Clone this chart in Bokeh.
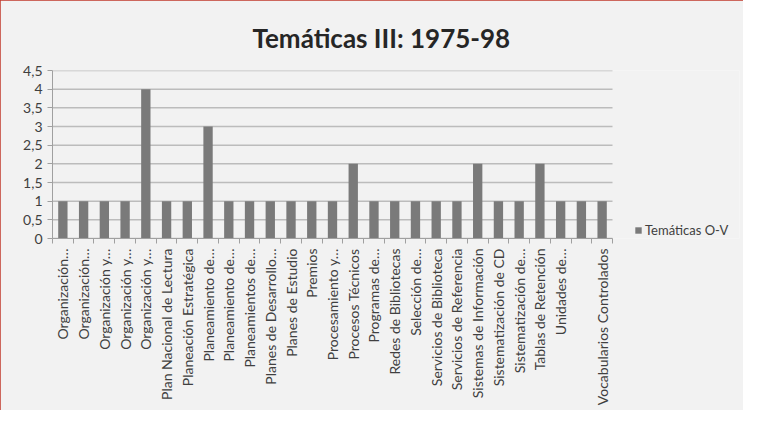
from bokeh.plotting import figure
from bokeh.models import (ColumnDataSource, FixedTicker, CustomJSTickFormatter,
                          Legend, LegendItem, Range1d)
from bokeh.embed import file_html
from bokeh.resources import INLINE
import math

categories = [
    "Organización…", "Organización…", "Organización y…", "Organización y…",
    "Organización y…", "Plan Nacional de Lectura", "Planeación Estratégica",
    "Planeamiento de…", "Planeamiento de…", "Planeamientos de…",
    "Planes de Desarrollo…", "Planes de Estudio", "Premios",
    "Procesamiento y…", "Procesos Técnicos", "Programas de…",
    "Redes de Bibliotecas", "Selección de…", "Servicios de Biblioteca",
    "Servicios de Referencia", "Sistemas de Información",
    "Sistematización de CD", "Sistematización de…", "Tablas de Retención",
    "Unidades de…", "", "Vocabularios Controlados",
]
values = [1, 1, 1, 1, 4, 1, 1, 3, 1, 1, 1, 1, 1, 1, 2, 1, 1, 1, 1, 1, 2, 1, 1, 2, 1, 1, 1]
y_ticks = [0, 0.5, 1, 1.5, 2, 2.5, 3, 3.5, 4, 4.5]
series_name = "Temáticas O-V"
title_text = "Temáticas III: 1975-98"

n = len(categories)
positions = list(range(1, n + 1))
src = ColumnDataSource(dict(x=positions, top=values))

FONT = "Lato"
BG = "#f2f2f2"
W, H = 743, 410
LEFT, RIGHT, TOP, BOTTOM = 52, 4, 70, 172
plot_px = 560  # width of the category area
frame_px = W - LEFT - RIGHT
x_end = 0.5 + frame_px * n / plot_px

p = figure(width=W, height=H, output_backend="svg", toolbar_location=None,
           x_range=Range1d(0.5, x_end), y_range=Range1d(0, 4.5),
           min_border_left=LEFT, min_border_right=RIGHT, min_border_top=TOP,
           min_border_bottom=BOTTOM)
p.background_fill_color = BG
p.border_fill_color = BG
p.outline_line_color = None
p.styles = {"outline": "2px solid #c0392b", "outline-offset": "-2px",
            "width": f"{W}px", "height": f"{H}px",
            "max-width": f"{W}px", "max-height": f"{H}px"}

# horizontal grid lines over the category area only
p.segment(x0=[0.5] * len(y_ticks), x1=[n + 0.5] * len(y_ticks), y0=y_ticks, y1=y_ticks,
          line_color="#bcbcbc", line_width=1.5)

r = p.vbar(x="x", top="top", width=0.45, source=src, fill_color="#7a7a7a",
           line_color=None)

p.title.text = title_text
p.title.align = "left"
p.title.offset = 200
p.title.text_font = FONT
p.title.text_font_size = "26px"
p.title.text_font_style = "bold"
p.title.text_color = "#262626"
p.title.standoff = 33

# y axis
p.yaxis.ticker = FixedTicker(ticks=y_ticks)
p.yaxis.formatter = CustomJSTickFormatter(code="return tick.toString().replace('.', ',');")
p.yaxis.major_label_text_font = FONT
p.yaxis.major_label_text_font_size = "14px"
p.yaxis.major_label_text_color = "#404040"
p.yaxis.axis_line_color = "#a0a0a0"
p.yaxis.major_tick_line_color = "#a0a0a0"
p.yaxis.major_tick_in = 0
p.yaxis.major_tick_out = 5
p.yaxis.minor_tick_line_color = None

# x axis
p.xaxis.bounds = (0.5, n + 0.5)
p.xaxis.ticker = FixedTicker(ticks=positions,
                             minor_ticks=[i + 0.5 for i in range(0, n + 1)])
p.xaxis.major_label_overrides = {i: c for i, c in zip(positions, categories)}
p.xaxis.major_label_orientation = math.pi / 2
p.xaxis.major_label_text_font = FONT
p.xaxis.major_label_text_font_size = "14px"
p.xaxis.major_label_text_color = "#404040"
p.xaxis.axis_line_color = "#a0a0a0"
p.xaxis.major_tick_line_color = None
p.xaxis.minor_tick_line_color = "#a0a0a0"
p.xaxis.minor_tick_in = 0
p.xaxis.minor_tick_out = 5
p.xaxis.major_label_standoff = 4

p.xgrid.grid_line_color = None
p.ygrid.grid_line_color = None

legend = Legend(items=[LegendItem(label=series_name, renderers=[r])],
                location=(582, 0), orientation="vertical",
                glyph_width=8, glyph_height=8, label_standoff=3,
                label_text_font=FONT, label_text_font_size="13px",
                label_text_color="#404040",
                background_fill_alpha=0, border_line_color=None, padding=2, margin=0)
p.add_layout(legend)

open("out.html", "w").write(file_html(p, INLINE))
